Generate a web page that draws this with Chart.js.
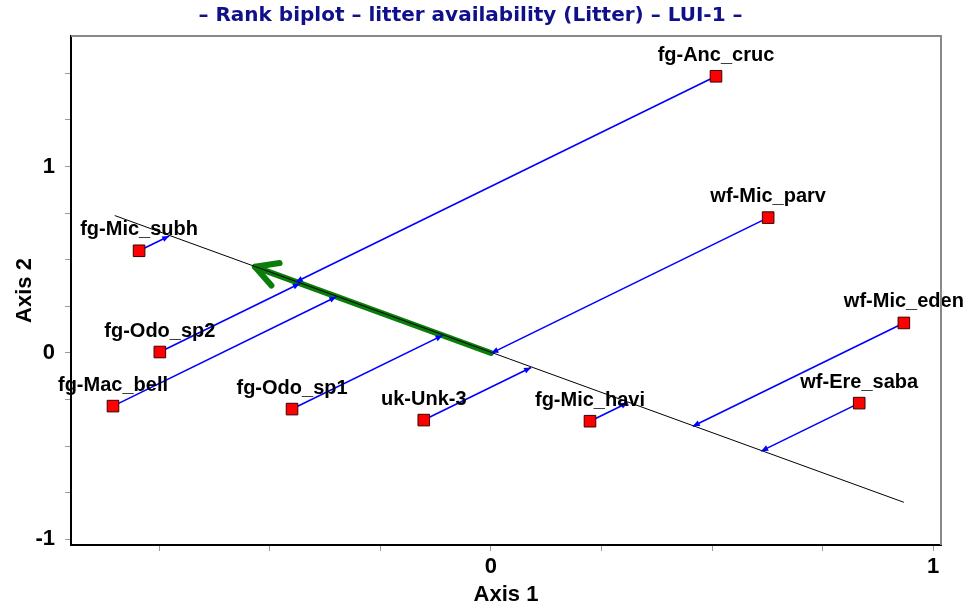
<!DOCTYPE html>
<html>
<head>
<meta charset="utf-8">
<script src="https://cdn.jsdelivr.net/npm/chart.js@4/dist/chart.umd.min.js"></script>
<style>
html,body{margin:0;padding:0;background:#fff;}
#wrap{width:967px;height:607px;position:relative;}
</style>
</head>
<body>
<div id="wrap"><canvas id="c" width="967" height="607"></canvas></div>
<script>
const chartTitle = '– Rank biplot – litter availability (Litter) – LUI-1 –';
const xAxisTitle = 'Axis 1';
const yAxisTitle = 'Axis 2';

const speciesNames = ['fg-Anc_cruc','wf-Mic_parv','wf-Mic_eden','wf-Ere_saba','fg-Mic_havi','uk-Unk-3','fg-Odo_sp1','fg-Mac_bell','fg-Odo_sp2','fg-Mic_subh'];
const axis1Scores = [0.509, 0.627, 0.934, 0.833, 0.224, -0.152, -0.450, -0.855, -0.749, -0.796];
const axis2Scores = [1.484, 0.726, 0.161, -0.269, -0.366, -0.360, -0.301, -0.285, 0.005, 0.548];

// biplot axis of the variable "Litter"
const biplotAxisX = [-0.851, 0.934];
const biplotAxisY = [0.737, -0.801];
// variable arrow (from origin)
const arrowX = [0, -0.534];
const arrowY = [0, 0.462];

const xRange = [-0.95, 1.018];
const yRange = [-1.03, 1.70];
const xTickValues = [-0.75, -0.5, -0.25, 0, 0.25, 0.5, 0.75, 1];
const yTickValues = [-1, -0.75, -0.5, -0.25, 0, 0.25, 0.5, 0.75, 1, 1.25, 1.5];
const xTickLabels = [0, 1];
const yTickLabels = [-1, 0, 1];

// direction of the biplot axis (unit vector, data space)
const dx = biplotAxisX[1] - biplotAxisX[0];
const dy = biplotAxisY[1] - biplotAxisY[0];
const dlen = Math.hypot(dx, dy);
const ux = dx / dlen, uy = dy / dlen;
function project(x, y) {
  const t = x * ux + y * uy;
  return {x: t * ux, y: t * uy};
}

const points = speciesNames.map((n, i) => ({x: axis1Scores[i], y: axis2Scores[i]}));
const projections = points.map(p => project(p.x, p.y));

const ARIAL = '"Liberation Sans", Arial, sans-serif';

const datasets = [];
datasets.push({
  label: 'arrow', data: arrowX.map((x, i) => ({x, y: arrowY[i]})),
  showLine: true, borderColor: '#0b7d0b', borderWidth: 6, pointRadius: 0, order: 5, borderCapStyle: 'round'
});
datasets.push({
  label: 'axis', data: biplotAxisX.map((x, i) => ({x, y: biplotAxisY[i]})),
  showLine: true, borderColor: '#000000', borderWidth: 1, pointRadius: 0, order: 4
});
points.forEach((p, i) => {
  datasets.push({
    label: 'proj' + i, data: [p, projections[i]],
    showLine: true, borderColor: '#0000ff', borderWidth: 1.6, pointRadius: 0, order: 3
  });
});
datasets.push({
  label: 'species', data: points,
  pointStyle: 'rect', pointRadius: 8.2, pointHoverRadius: 8.2,
  backgroundColor: '#ff0000', borderColor: '#3a0000', borderWidth: 1, showLine: false, order: 0
});

const decorPlugin = {
  id: 'decor',
  beforeDatasetsDraw(chart) {
    const {ctx, scales: {x, y}} = chart;
    // green chevron arrowhead
    const tx = x.getPixelForValue(arrowX[1]), ty = y.getPixelForValue(arrowY[1]);
    const ox = x.getPixelForValue(arrowX[0]), oy = y.getPixelForValue(arrowY[0]);
    const ang = Math.atan2(oy - ty, ox - tx);
    const L = 25, a = 0.5;
    ctx.save();
    ctx.strokeStyle = '#0b7d0b'; ctx.lineWidth = 6; ctx.lineCap = 'round'; ctx.lineJoin = 'round';
    ctx.beginPath();
    ctx.moveTo(tx + L * Math.cos(ang + a), ty + L * Math.sin(ang + a));
    ctx.lineTo(tx, ty);
    ctx.lineTo(tx + L * Math.cos(ang - a), ty + L * Math.sin(ang - a));
    ctx.stroke();
    ctx.restore();
  },
  afterDatasetsDraw(chart) {
    const {ctx, chartArea, scales: {x, y}} = chart;
    ctx.save();
    // blue arrowheads at projections
    ctx.fillStyle = '#0000ff';
    points.forEach((p, i) => {
      const px = x.getPixelForValue(p.x), py = y.getPixelForValue(p.y);
      const qx = x.getPixelForValue(projections[i].x), qy = y.getPixelForValue(projections[i].y);
      const ang = Math.atan2(qy - py, qx - px);
      const L = 7, W = 3;
      ctx.beginPath();
      ctx.moveTo(qx, qy);
      ctx.lineTo(qx - L * Math.cos(ang) + W * Math.sin(ang), qy - L * Math.sin(ang) - W * Math.cos(ang));
      ctx.lineTo(qx - L * Math.cos(ang) - W * Math.sin(ang), qy - L * Math.sin(ang) + W * Math.cos(ang));
      ctx.closePath();
      ctx.fill();
    });
    // labels
    ctx.fillStyle = '#000000';
    ctx.font = 'bold 20px ' + ARIAL;
    ctx.textAlign = 'center';
    ctx.textBaseline = 'middle';
    points.forEach((p, i) => {
      const px = x.getPixelForValue(p.x), py = y.getPixelForValue(p.y);
      ctx.fillText(speciesNames[i], px, py - 21);
    });
    // top and right frame
    ctx.strokeStyle = '#888888'; ctx.lineWidth = 2;
    ctx.beginPath();
    ctx.moveTo(chartArea.left, chartArea.top);
    ctx.lineTo(chartArea.right, chartArea.top);
    ctx.lineTo(chartArea.right, chartArea.bottom);
    ctx.stroke();
    ctx.restore();
  }
};

new Chart(document.getElementById('c'), {
  type: 'scatter',
  data: {datasets},
  plugins: [decorPlugin],
  options: {
    responsive: false,
    animation: false,
    layout: {padding: {left: 0, right: 26, top: 0, bottom: 0}},
    plugins: {
      legend: {display: false},
      tooltip: {enabled: false},
      title: {
        display: true, text: chartTitle, color: '#10108a',
        font: {family: '"DejaVu Sans", Verdana, sans-serif', size: 20, weight: 'bold', lineHeight: 1.2},
        padding: {top: 4, bottom: 8}
      }
    },
    scales: {
      x: {
        type: 'linear', min: xRange[0], max: xRange[1],
        afterFit(s) { s.height = 62; },
        afterBuildTicks(s) { s.ticks = xTickValues.map(v => ({value: v})); },
        ticks: {
          autoSkip: false, maxRotation: 0, padding: 3, color: '#000',
          font: {family: ARIAL, size: 22, weight: 'bold'},
          callback: v => xTickLabels.includes(v) ? String(v) : ''
        },
        grid: {display: true, drawOnChartArea: false, drawTicks: true, tickLength: 6, color: '#999999'},
        border: {display: true, color: '#000000', width: 2},
        title: {
          display: true, text: xAxisTitle, color: '#000',
          font: {family: ARIAL, size: 22, weight: 'bold', lineHeight: 1.1},
          padding: {top: 0, bottom: 0}
        }
      },
      y: {
        type: 'linear', min: yRange[0], max: yRange[1],
        afterFit(s) { s.width = 71; },
        afterBuildTicks(s) { s.ticks = yTickValues.map(v => ({value: v})); },
        ticks: {
          autoSkip: false, padding: 10, color: '#000',
          font: {family: ARIAL, size: 22, weight: 'bold'},
          callback: v => yTickLabels.includes(v) ? String(v) : ''
        },
        grid: {display: true, drawOnChartArea: false, drawTicks: true, tickLength: 6, color: '#999999'},
        border: {display: true, color: '#000000', width: 2},
        title: {
          display: true, text: yAxisTitle, color: '#000',
          font: {family: ARIAL, size: 22, weight: 'bold'},
          padding: {top: 12, bottom: 0}
        }
      }
    }
  }
});
</script>
</body>
</html>
